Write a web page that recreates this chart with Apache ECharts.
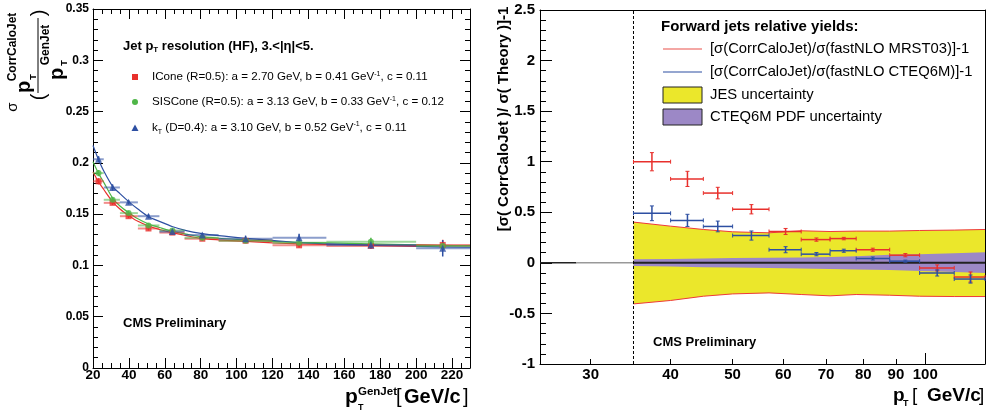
<!DOCTYPE html>
<html><head><meta charset="utf-8">
<script src="https://cdn.jsdelivr.net/npm/echarts@6/dist/echarts.min.js"></script>
<style>html,body{margin:0;padding:0;background:#fff}#c{width:986px;height:412px}</style>
</head><body><div id="c"></div>
<script>
// ---------- Left panel: jet pT resolution ----------
const resCenters = [23.1, 30.9, 39.8, 50.9, 64.2, 80.9, 105, 134.8, 174.8, 214.8];
const resBinLo   = [20, 26, 35, 45, 57, 71, 90, 120, 150, 200];
const resBinHi   = [26, 35, 45, 57, 71, 90, 120, 150, 200, 230];
const iconeRes   = [0.182, 0.161, 0.148, 0.136, 0.132, 0.126, 0.124, 0.1196, 0.119, 0.120];
const iconeErr   = [0.003, 0.002, 0.002, 0.002, 0.002, 0.002, 0.002, 0.002, 0.002, 0.005];
const siscRes    = [0.190, 0.164, 0.151, 0.139, 0.134, 0.127, 0.124, 0.122, 0.123, 0.119];
const siscErr    = [0.003, 0.002, 0.002, 0.002, 0.002, 0.002, 0.002, 0.002, 0.004, 0.003];
const ktRes      = [0.2035, 0.176, 0.1615, 0.148, 0.133, 0.1297, 0.126, 0.127, 0.120, 0.1167];
const ktErr      = [0.003, 0.003, 0.002, 0.002, 0.002, 0.002, 0.003, 0.004, 0.004, 0.008];
// fitted curves
const fitX       = [20, 23, 26, 31, 35, 40, 45, 51, 57, 64, 72, 80, 90, 105, 120, 135, 150, 175, 200, 230];
const iconeFit   = [0.191, 0.1816, 0.174, 0.162, 0.155, 0.1485, 0.143, 0.1384, 0.135, 0.132, 0.129, 0.1264, 0.125, 0.1235, 0.122, 0.121, 0.1205, 0.120, 0.1195, 0.119];
const siscFit    = [0.201, 0.190, 0.181, 0.1654, 0.158, 0.1514, 0.1455, 0.1404, 0.137, 0.1333, 0.1305, 0.128, 0.1265, 0.125, 0.1235, 0.1225, 0.122, 0.121, 0.120, 0.1192];
const ktFit      = [0.217, 0.2035, 0.192, 0.1768, 0.170, 0.162, 0.155, 0.1475, 0.143, 0.138, 0.134, 0.1313, 0.129, 0.1265, 0.1245, 0.1222, 0.121, 0.1195, 0.1185, 0.1177];
const leftXTicks = [20, 40, 60, 80, 100, 120, 140, 160, 180, 200, 220];

// ---------- Right panel: forward jets relative yields ----------
const ptLo      = [35, 40, 45, 50, 57, 64, 71, 78, 88, 98, 111];
const ptHi      = [40, 45, 50, 57, 64, 71, 78, 88, 98, 111, 124];
const ptCenters = [37.4, 42.5, 47.4, 53.5, 60.5, 67.6, 74.6, 82.8, 93.1, 104.4, 117.7];
const mrstVals  = [1.0, 0.83, 0.69, 0.53, 0.31, 0.23, 0.24, 0.13, 0.076, -0.05, -0.14];
const mrstErr   = [0.09, 0.075, 0.057, 0.046, 0.03, 0.016, 0.012, 0.015, 0.016, 0.03, 0.05];
const cteqVals  = [0.49, 0.42, 0.36, 0.27, 0.13, 0.086, 0.12, 0.043, 0.017, -0.10, -0.16];
const cteqErr   = [0.073, 0.06, 0.053, 0.045, 0.03, 0.016, 0.015, 0.015, 0.01, 0.03, 0.04];
const bandX     = [35, 40, 45, 50, 57, 64, 71, 78, 88, 98, 111, 124];
const jesUp     = [0.403, 0.363, 0.33, 0.307, 0.297, 0.317, 0.31, 0.314, 0.314, 0.32, 0.324, 0.33];
const jesDown   = [-0.406, -0.372, -0.33, -0.307, -0.297, -0.313, -0.326, -0.313, -0.32, -0.33, -0.333, -0.333];
const pdfUp     = [0.035, 0.038, 0.043, 0.047, 0.05, 0.054, 0.058, 0.065, 0.08, 0.086, 0.095, 0.104];
const pdfDown   = [-0.03, -0.036, -0.043, -0.047, -0.05, -0.055, -0.06, -0.065, -0.07, -0.08, -0.09, -0.10];
const rightXTicks = [30, 40, 50, 60, 70, 80, 90, 100];
const ptMin = 25, ptMax = 124, ptCut = 35;

const L = Math.log10;
const FONT = '"Liberation Sans", Arial, Helvetica, sans-serif';
const RED = '#e8302c', GREEN = '#4fb648', BLUE = '#2d4fa2';

function crosses(name, xi, yi, xs, lo, hi, ys, errs, color, o) {
  return {
    type: 'custom', name, xAxisIndex: xi, yAxisIndex: yi, z: o.z || 5,
    data: xs.map((x, i) => [x, ys[i], lo[i], hi[i], errs[i]]),
    encode: { x: 0, y: 1 },
    renderItem(params, api) {
      const x = api.value(0), y = api.value(1), l = api.value(2), h = api.value(3), e = api.value(4);
      const a = api.coord([l, y]), b = api.coord([h, y]), t = api.coord([x, y + e]), d = api.coord([x, y - e]);
      const ch = [
        { type: 'line', shape: { x1: a[0], y1: a[1], x2: b[0], y2: b[1] }, style: { stroke: color, lineWidth: o.hw, opacity: o.hop } },
        { type: 'line', shape: { x1: t[0], y1: t[1], x2: d[0], y2: d[1] }, style: { stroke: color, lineWidth: o.vw } }
      ];
      if (o.cap) {
        const c = o.cap;
        ch.push({ type: 'line', shape: { x1: a[0], y1: a[1] - c, x2: a[0], y2: a[1] + c }, style: { stroke: color, lineWidth: 1 } });
        ch.push({ type: 'line', shape: { x1: b[0], y1: b[1] - c, x2: b[0], y2: b[1] + c }, style: { stroke: color, lineWidth: 1 } });
        ch.push({ type: 'line', shape: { x1: t[0] - c, y1: t[1], x2: t[0] + c, y2: t[1] }, style: { stroke: color, lineWidth: 1 } });
        ch.push({ type: 'line', shape: { x1: d[0] - c, y1: d[1], x2: d[0] + c, y2: d[1] }, style: { stroke: color, lineWidth: 1 } });
      }
      return { type: 'group', children: ch };
    }
  };
}
function band(xi, yi, xs, up, dn, fill, z) {
  return {
    type: 'custom', xAxisIndex: xi, yAxisIndex: yi, z, silent: true,
    data: [[L(xs[0]), 0]],
    renderItem(params, api) {
      const pts = [];
      xs.forEach((x, i) => pts.push(api.coord([L(x), up[i]])));
      for (let i = xs.length - 1; i >= 0; i--) pts.push(api.coord([L(xs[i]), dn[i]]));
      return { type: 'polygon', shape: { points: pts }, style: { fill } };
    }
  };
}
function txt(text, x, y, size, opt) {
  opt = opt || {};
  const st = {
    text, fill: opt.color || '#000', fontSize: size, fontWeight: opt.weight || 'normal', fontFamily: FONT,
    align: opt.align || 'left', verticalAlign: opt.va || 'middle',
    textAlign: opt.align || 'left', textVerticalAlign: opt.va || 'middle'
  };
  if (opt.rich) st.rich = opt.rich;
  if (opt.lh) st.lineHeight = opt.lh;
  return { type: 'text', x, y, rotation: opt.rot || 0, z: 100, style: st };
}
const supRich = { s: { fontSize: 7, verticalAlign: 'top', fontFamily: FONT } };
const lineStyleK = { color: '#000', width: 1 };
const common = { splitLine: { show: false }, axisLine: { onZero: false, lineStyle: lineStyleK } };

const option = {
  animation: false,
  backgroundColor: '#fff',
  grid: [
    { left: 93, top: 9, width: 377, height: 359 },
    { left: 540, top: 10, width: 445, height: 354 }
  ],
  xAxis: [
    { ...common, type: 'value', gridIndex: 0, position: 'bottom', min: 20, max: 230, interval: 20,
      axisTick: { inside: true, length: 10, lineStyle: lineStyleK },
      minorTick: { show: true, splitNumber: 4, length: 5, lineStyle: lineStyleK },
      axisLabel: { fontSize: 13.5, fontWeight: 'bold', color: '#000', fontFamily: FONT, margin: 0,
        customValues: leftXTicks } },
    { ...common, type: 'value', gridIndex: 0, position: 'top', min: 20, max: 230, interval: 20,
      axisTick: { inside: true, length: 10, lineStyle: lineStyleK },
      minorTick: { show: true, splitNumber: 4, length: 5, lineStyle: lineStyleK },
      axisLabel: { show: false } },
    { ...common, type: 'value', gridIndex: 1, position: 'bottom', min: L(ptMin), max: L(ptMax),
      axisTick: { inside: true, length: 5, lineStyle: lineStyleK, customValues: rightXTicks.map(L) },
      axisLabel: { fontSize: 15, fontWeight: 'bold', color: '#000', fontFamily: FONT, margin: 3,
        customValues: rightXTicks.map(L), formatter: v => String(Math.round(Math.pow(10, v))) } },
    { ...common, type: 'value', gridIndex: 1, position: 'top', min: L(ptMin), max: L(ptMax),
      axisTick: { show: false }, axisLabel: { show: false } },
    { type: 'value', gridIndex: 1, position: 'bottom', offset: 0, min: L(ptMin), max: L(ptMax), splitLine: { show: false },
      axisLine: { show: false, onZero: false }, axisLabel: { show: false },
      axisTick: { inside: true, length: 11, lineStyle: lineStyleK, customValues: [L(100)] } }
  ],
  yAxis: [
    { ...common, type: 'value', gridIndex: 0, position: 'left', min: 0, max: 0.35, interval: 0.05,
      axisTick: { inside: true, length: 10, lineStyle: lineStyleK },
      minorTick: { show: true, splitNumber: 5, length: 5, lineStyle: lineStyleK },
      axisLabel: { fontSize: 12, fontWeight: 'bold', color: '#000', fontFamily: FONT, margin: 4,
        formatter: v => String(+v.toFixed(2)) } },
    { ...common, type: 'value', gridIndex: 0, position: 'right', min: 0, max: 0.35, interval: 0.05,
      axisTick: { inside: true, length: 10, lineStyle: lineStyleK },
      minorTick: { show: true, splitNumber: 5, length: 5, lineStyle: lineStyleK },
      axisLabel: { show: false } },
    { ...common, type: 'value', gridIndex: 1, position: 'left', min: -1, max: 2.5, interval: 0.5,
      axisTick: { inside: true, length: 12, lineStyle: lineStyleK },
      minorTick: { show: true, splitNumber: 5, length: 6, lineStyle: lineStyleK },
      axisLabel: { fontSize: 15, fontWeight: 'bold', color: '#000', fontFamily: FONT, margin: 5,
        formatter: v => String(+v.toFixed(1)) } },
    { ...common, type: 'value', gridIndex: 1, position: 'right', min: -1, max: 2.5,
      axisTick: { show: false }, axisLabel: { show: false } }
  ],
  series: [
    // left fits
    { type: 'line', xAxisIndex: 0, yAxisIndex: 0, data: fitX.map((x, i) => [x, iconeFit[i]]), smooth: 0.3, showSymbol: false, lineStyle: { color: RED, width: 1.2 }, z: 3 },
    { type: 'line', xAxisIndex: 0, yAxisIndex: 0, data: fitX.map((x, i) => [x, siscFit[i]]), smooth: 0.3, showSymbol: false, lineStyle: { color: GREEN, width: 1.2 }, z: 3 },
    { type: 'line', xAxisIndex: 0, yAxisIndex: 0, data: fitX.map((x, i) => [x, ktFit[i]]), smooth: 0.3, showSymbol: false, lineStyle: { color: BLUE, width: 1.2 }, z: 3 },
    // left error bars
    crosses('ic', 0, 0, resCenters, resBinLo, resBinHi, iconeRes, iconeErr, RED, { hw: 2, hop: 0.55, vw: 1.5, z: 4 }),
    crosses('sis', 0, 0, resCenters, resBinLo, resBinHi, siscRes, siscErr, GREEN, { hw: 2, hop: 0.55, vw: 1.5, z: 4 }),
    crosses('kt', 0, 0, resCenters, resBinLo, resBinHi, ktRes, ktErr, BLUE, { hw: 2, hop: 0.55, vw: 1.5, z: 4 }),
    // left markers
    { type: 'scatter', xAxisIndex: 0, yAxisIndex: 0, data: resCenters.map((x, i) => [x, iconeRes[i]]), symbol: 'rect', symbolSize: 6, itemStyle: { color: RED }, z: 6 },
    { type: 'scatter', xAxisIndex: 0, yAxisIndex: 0, data: resCenters.map((x, i) => [x, siscRes[i]]), symbol: 'circle', symbolSize: 6, itemStyle: { color: GREEN }, z: 6 },
    { type: 'scatter', xAxisIndex: 0, yAxisIndex: 0, data: resCenters.map((x, i) => [x, ktRes[i]]), symbol: 'triangle', symbolSize: 7, itemStyle: { color: BLUE }, z: 6 },

    // right bands
    band(2, 2, bandX, jesUp, jesDown, '#ebe72b', 1),
    { type: 'line', xAxisIndex: 2, yAxisIndex: 2, data: bandX.map((x, i) => [L(x), jesUp[i]]), showSymbol: false, lineStyle: { color: '#ee3a3a', width: 1 }, z: 2 },
    { type: 'line', xAxisIndex: 2, yAxisIndex: 2, data: bandX.map((x, i) => [L(x), jesDown[i]]), showSymbol: false, lineStyle: { color: '#ee3a3a', width: 1 }, z: 2 },
    band(2, 2, bandX, pdfUp, pdfDown, '#9c88c6', 3),
    // zero line
    { type: 'line', xAxisIndex: 2, yAxisIndex: 2, data: [[L(ptMin), 0], [L(28.5), 0]], showSymbol: false, lineStyle: { color: '#222', width: 1.5 }, z: 4 },
    { type: 'line', xAxisIndex: 2, yAxisIndex: 2, data: [[L(28.5), 0], [L(ptCut), 0]], showSymbol: false, lineStyle: { color: '#999', width: 1.5 }, z: 4 },
    { type: 'line', xAxisIndex: 2, yAxisIndex: 2, data: [[L(ptCut), 0], [L(ptMax), 0]], showSymbol: false, lineStyle: { color: '#222', width: 2 }, z: 4 },
    // cut line
    { type: 'line', xAxisIndex: 2, yAxisIndex: 2, data: [[L(ptCut), -1], [L(ptCut), 2.5]], showSymbol: false, lineStyle: { color: '#000', width: 1, type: [3, 2] }, z: 5 },
    // data points
    crosses('mrst', 2, 2, ptCenters.map(L), ptLo.map(L), ptHi.map(L), mrstVals, mrstErr, RED, { hw: 1.5, hop: 1, vw: 1.5, cap: 2, z: 7 }),
    crosses('cteq', 2, 2, ptCenters.map(L), ptLo.map(L), ptHi.map(L), cteqVals, cteqErr, BLUE, { hw: 1.5, hop: 1, vw: 1.5, cap: 2, z: 7 })
  ],
  graphic: [
    // left header
    txt('Jet p{s|T} resolution (HF), 3.<|η|<5.', 123, 46, 13, { weight: 'bold', lh: 16,
      rich: { s: { fontSize: 8, fontWeight: 'bold', verticalAlign: 'bottom', fontFamily: FONT } } }),
    // left legend
    { type: 'rect', shape: { x: 132, y: 74, width: 6, height: 6 }, style: { fill: RED }, z: 100 },
    { type: 'circle', shape: { cx: 135, cy: 102, r: 3 }, style: { fill: GREEN }, z: 100 },
    { type: 'polygon', shape: { points: [[135, 124.5], [131.5, 131], [138.5, 131]] }, style: { fill: BLUE }, z: 100 },
    txt('ICone (R=0.5): a = 2.70 GeV, b = 0.41 GeV{s|-1}, c = 0.11', 152, 77, 11.6, { rich: supRich }),
    txt('SISCone (R=0.5): a = 3.13 GeV, b = 0.33 GeV{s|-1}, c = 0.12', 152, 102, 11.6, { rich: supRich }),
    txt('k{b|T} (D=0.4): a = 3.10 GeV, b = 0.52 GeV{s|-1}, c = 0.11', 152, 128, 11.6, { lh: 15,
      rich: { s: supRich.s, b: { fontSize: 7, verticalAlign: 'bottom', fontFamily: FONT } } }),
    txt('CMS Preliminary', 123, 323, 13, { weight: 'bold' }),
    // left x title
    txt('p', 345, 397, 21, { weight: 'bold' }),
    txt('GenJet', 358, 392, 11.5, { weight: 'bold' }),
    txt('T', 358, 408, 9, { weight: 'bold' }),
    txt('[', 396, 397, 20),
    txt('GeV/c', 404, 397, 20, { weight: 'bold' }),
    txt(']', 463, 397, 20),
    // left y title (rotated fraction)
    txt('σ', 13, 107, 15, { rot: Math.PI / 2, align: 'center' }),
    txt('(', 39, 97, 20, { rot: Math.PI / 2, align: 'center' }),
    txt(')', 39, 13, 20, { rot: Math.PI / 2, align: 'center' }),
    { type: 'line', shape: { x1: 38, y1: 18, x2: 38, y2: 93 }, style: { stroke: '#000', lineWidth: 1 }, z: 100 },
    txt('p', 24, 87, 20, { rot: Math.PI / 2, align: 'center', weight: 'bold' }),
    txt('T', 34, 77, 9, { rot: Math.PI / 2, align: 'center', weight: 'bold' }),
    txt('CorrCaloJet', 13, 47, 12, { rot: Math.PI / 2, align: 'center', weight: 'bold' }),
    txt('p', 57, 74, 20, { rot: Math.PI / 2, align: 'center', weight: 'bold' }),
    txt('T', 65, 63, 9, { rot: Math.PI / 2, align: 'center', weight: 'bold' }),
    txt('GenJet', 46, 45, 12, { rot: Math.PI / 2, align: 'center', weight: 'bold' }),

    // right legend
    txt('Forward jets relative yields:', 661, 27, 15, { weight: 'bold' }),
    { type: 'line', shape: { x1: 663, y1: 49, x2: 702, y2: 49 }, style: { stroke: '#f08a86', lineWidth: 1.5 }, z: 100 },
    txt('[σ(CorrCaloJet)/σ(fastNLO MRST03)]-1', 710, 49, 14.8),
    { type: 'line', shape: { x1: 663, y1: 72, x2: 702, y2: 72 }, style: { stroke: BLUE, lineWidth: 1.2 }, z: 100 },
    txt('[σ(CorrCaloJet)/σ(fastNLO CTEQ6M)]-1', 710, 72, 14.8),
    { type: 'rect', shape: { x: 663, y: 87, width: 39, height: 16 }, style: { fill: '#ebe72b', stroke: '#222', lineWidth: 1 }, z: 100 },
    txt('JES uncertainty', 710, 95, 14.8),
    { type: 'rect', shape: { x: 663, y: 109, width: 39, height: 16 }, style: { fill: '#9c88c6', stroke: '#222', lineWidth: 1 }, z: 100 },
    txt('CTEQ6M PDF uncertainty', 710, 117, 14.8),
    txt('CMS Preliminary', 653, 342, 13, { weight: 'bold' }),
    // right x title
    txt('p', 893, 396, 19, { weight: 'bold' }),
    txt('T', 903, 404, 9, { weight: 'bold' }),
    txt('[', 912, 396, 19),
    txt('GeV/c', 927, 396, 19, { weight: 'bold' }),
    txt(']', 979, 396, 19),
    // right y title
    txt('[σ( CorrCaloJet )/ σ( Theory )]-1', 504, 119, 15, { rot: Math.PI / 2, align: 'center', weight: 'bold' })
  ]
};
const chart = echarts.init(document.getElementById('c'));
chart.setOption(option);
</script>
</body></html>
